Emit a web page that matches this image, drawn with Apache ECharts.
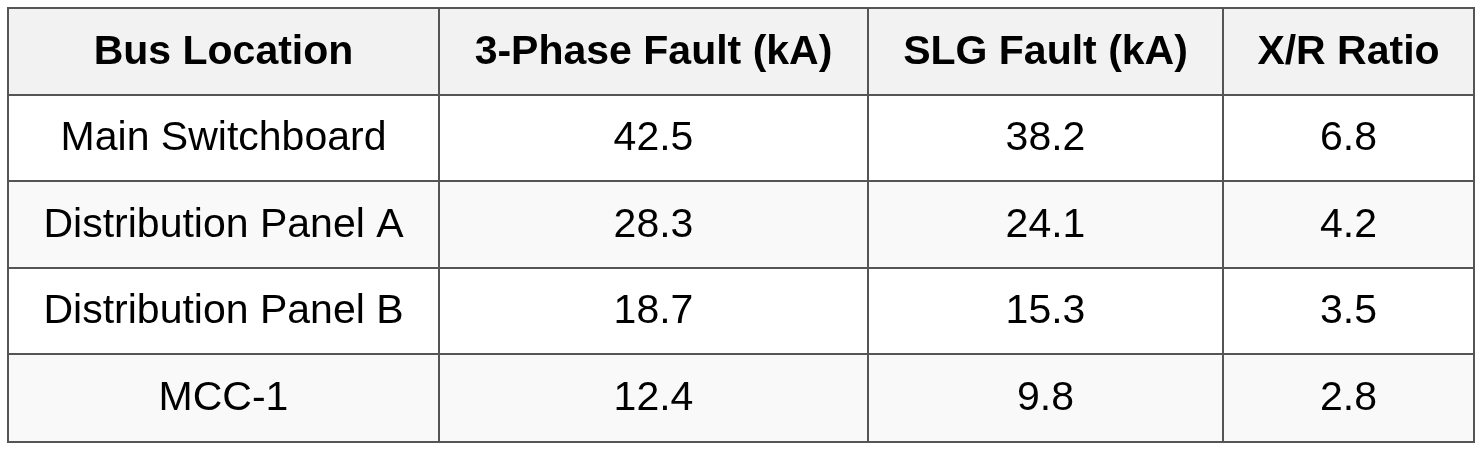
<!DOCTYPE html>
<html><head><meta charset="utf-8">
<script src="https://cdn.jsdelivr.net/npm/echarts@6/dist/echarts.min.js"></script>
<style>html,body{margin:0;padding:0;background:#fff}#c{width:1482px;height:450px}</style>
</head><body><div id="c"></div>
<script>
const headers = ['Bus Location', '3-Phase Fault (kA)', 'SLG Fault (kA)', 'X/R Ratio'];
const busLocations = ['Main Switchboard', 'Distribution Panel A', 'Distribution Panel B', 'MCC-1'];
const threePhaseFault = ['42.5', '28.3', '18.7', '12.4'];
const slgFault = ['38.2', '24.1', '15.3', '9.8'];
const xrRatio = ['6.8', '4.2', '3.5', '2.8'];

const colEdges = [0, 431, 860, 1215, 1466];
const rowFracs = [0, 87, 173, 260, 346, 434];

const cells = [];
headers.forEach((h, c) => cells.push([c, 0, h]));
const cols = [busLocations, threePhaseFault, slgFault, xrRatio];
busLocations.forEach((_, r) => cols.forEach((arr, c) => cells.push([c, r + 1, arr[r]])));

const chart = echarts.init(document.getElementById('c'));
chart.setOption({
  animation: false,
  grid: {left: 8, right: 8, top: 8, bottom: 8},
  xAxis: {type: 'value', min: 0, max: 1466, show: false},
  yAxis: {type: 'value', min: 0, max: 434, inverse: true, show: false},
  series: [{
    type: 'custom',
    data: cells,
    renderItem: function (params, api) {
      const c = api.value(0), r = api.value(1);
      const p1 = api.coord([colEdges[c], rowFracs[r]]);
      const p2 = api.coord([colEdges[c + 1], rowFracs[r + 1]]);
      const fill = r === 0 ? '#f2f2f2' : (r % 2 === 0 ? '#f9f9f9' : '#ffffff');
      return {
        type: 'group',
        children: [
          {type: 'rect', shape: {x: p1[0], y: p1[1], width: p2[0] - p1[0], height: p2[1] - p1[1]},
           style: {fill: fill, stroke: '#555555', lineWidth: 2}},
          {type: 'text', x: (p1[0] + p2[0]) / 2, y: (p1[1] + p2[1]) / 2 + 1,
           style: {text: cells[params.dataIndex][2], fill: '#000', align: 'center', verticalAlign: 'middle',
             font: (r === 0 ? 'bold ' : '') + '41px "Liberation Sans", Arial, sans-serif'}}
        ]
      };
    }
  }]
});
</script></body></html>
